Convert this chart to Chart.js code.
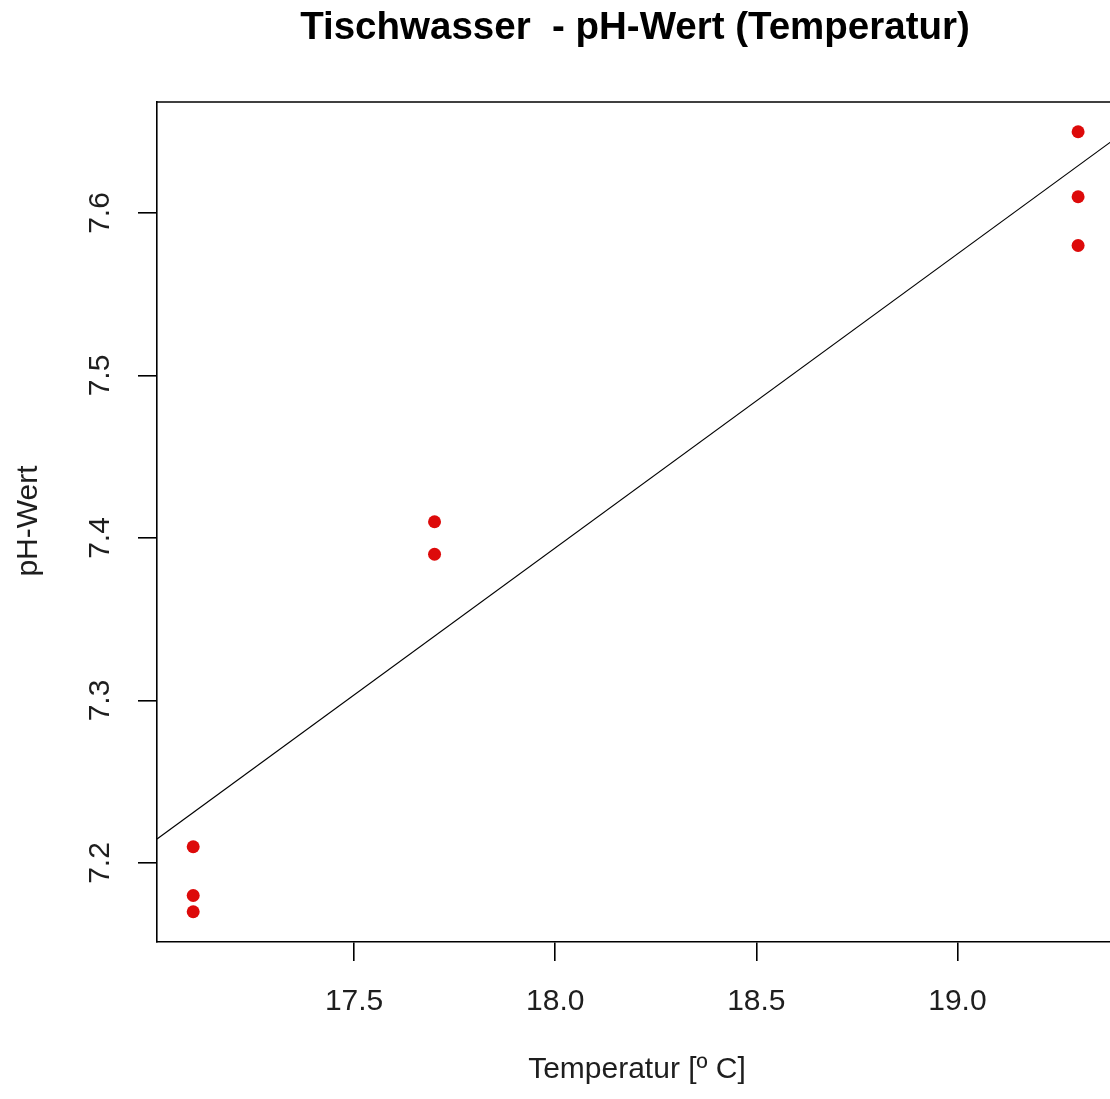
<!DOCTYPE html>
<html>
<head>
<meta charset="utf-8">
<script src="https://cdn.jsdelivr.net/npm/chart.js@4/dist/chart.umd.min.js"></script>
<style>
  html, body { margin: 0; padding: 0; background: #fff; overflow: hidden; }
  #wrap { width: 1110px; height: 1099px; overflow: hidden; }
</style>
</head>
<body>
<div id="wrap"><canvas id="c" width="1120" height="1099"></canvas></div>
<script>
// ---- data ----
const titleText = "Tischwasser  - pH-Wert (Temperatur)";
const xTitle = "Temperatur [º C]";
const yTitle = "pH-Wert";
const tempValues = [17.1, 17.1, 17.1, 17.7, 17.7, 19.3, 19.3, 19.3];
const phValues   = [7.21, 7.18, 7.17, 7.41, 7.39, 7.65, 7.61, 7.58];
const fitX = [17.01, 19.388];
const fitY = [7.2148, 7.645];
const xTickValues = [17.5, 18.0, 18.5, 19.0];
const xTickLabels = ["17.5", "18.0", "18.5", "19.0"];
const yTickValues = [7.2, 7.3, 7.4, 7.5, 7.6];
const yTickLabels = ["7.2", "7.3", "7.4", "7.5", "7.6"];
const xRange = [17.01, 19.388];
const yRange = [7.1514, 7.6683];

const points = tempValues.map((t, i) => ({ x: t, y: phValues[i] }));
const fitLine = fitX.map((t, i) => ({ x: t, y: fitY[i] }));

const FONT = "'Liberation Sans', Arial, sans-serif";
const TEXT = "#1e1e1e";

const decorPlugin = {
  id: 'decor',
  afterDraw(chart) {
    const ctx = chart.ctx;
    const ca = chart.chartArea;
    const ys = chart.scales.y;
    ctx.save();
    // top border of the box
    ctx.strokeStyle = "#000";
    ctx.lineWidth = 1.6;
    ctx.beginPath();
    ctx.moveTo(ca.left, ca.top);
    ctx.lineTo(ca.right, ca.top);
    ctx.stroke();
    // title
    ctx.fillStyle = "#000";
    ctx.font = "bold 38.5px " + FONT;
    ctx.textAlign = "center";
    ctx.textBaseline = "alphabetic";
    ctx.fillText(titleText, 635, 39);
    // x axis title
    ctx.fillStyle = TEXT;
    ctx.font = "30px " + FONT;
    ctx.fillText(xTitle, 637, 1078);
    // y axis title (rotated)
    ctx.save();
    ctx.translate(37, 521);
    ctx.rotate(-Math.PI / 2);
    ctx.fillText(yTitle, 0, 0);
    ctx.restore();
    // y tick labels (rotated, like R)
    ys.ticks.forEach((tk, i) => {
      const py = ys.getPixelForValue(tk.value);
      ctx.save();
      ctx.translate(109, py);
      ctx.rotate(-Math.PI / 2);
      ctx.fillText(yTickLabels[i], 0, 0);
      ctx.restore();
    });
    ctx.restore();
  }
};

new Chart(document.getElementById('c'), {
  type: 'scatter',
  data: {
    datasets: [
      {
        label: 'Messwerte',
        data: points,
        backgroundColor: '#dd0a0a',
        borderWidth: 0,
        pointRadius: 6.5,
        pointHoverRadius: 6.5,
        order: 1
      },
      {
        type: 'line',
        label: 'Regression',
        data: fitLine,
        borderColor: '#000',
        borderWidth: 1.2,
        pointRadius: 0,
        fill: false,
        tension: 0,
        order: 2
      }
    ]
  },
  options: {
    responsive: false,
    animation: false,
    devicePixelRatio: 1,
    layout: { padding: { left: 0, right: 0, top: 102, bottom: 0 } },
    plugins: {
      legend: { display: false },
      title: { display: false },
      tooltip: { enabled: false }
    },
    scales: {
      x: {
        type: 'linear',
        min: xRange[0],
        max: xRange[1],
        afterBuildTicks(scale) { scale.ticks = xTickValues.map(v => ({ value: v })); },
        afterFit(scale) {
          scale.height = 1099 - 942;
          scale.paddingLeft = 0;
          scale.paddingRight = 0;
        },
        ticks: {
          autoSkip: false,
          maxRotation: 0,
          minRotation: 0,
          padding: 23,
          color: TEXT,
          font: { family: FONT, size: 30 },
          callback(value) {
            const i = xTickValues.indexOf(value);
            return i >= 0 ? xTickLabels[i] : '';
          }
        },
        grid: {
          drawOnChartArea: false,
          drawTicks: true,
          tickLength: 19,
          color: '#000',
          lineWidth: 1.6
        },
        border: { display: true, color: '#000', width: 1.6 }
      },
      y: {
        type: 'linear',
        min: yRange[0],
        max: yRange[1],
        afterBuildTicks(scale) { scale.ticks = yTickValues.map(v => ({ value: v })); },
        afterFit(scale) {
          scale.width = 157;
          scale.paddingTop = 0;
          scale.paddingBottom = 0;
        },
        ticks: {
          autoSkip: false,
          color: 'rgba(0,0,0,0)',
          font: { family: FONT, size: 30 },
          callback(value) {
            const i = yTickValues.indexOf(value);
            return i >= 0 ? yTickLabels[i] : '';
          }
        },
        grid: {
          drawOnChartArea: false,
          drawTicks: true,
          tickLength: 19,
          color: '#000',
          lineWidth: 1.6
        },
        border: { display: true, color: '#000', width: 1.6 }
      }
    }
  },
  plugins: [decorPlugin]
});
</script>
</body>
</html>
